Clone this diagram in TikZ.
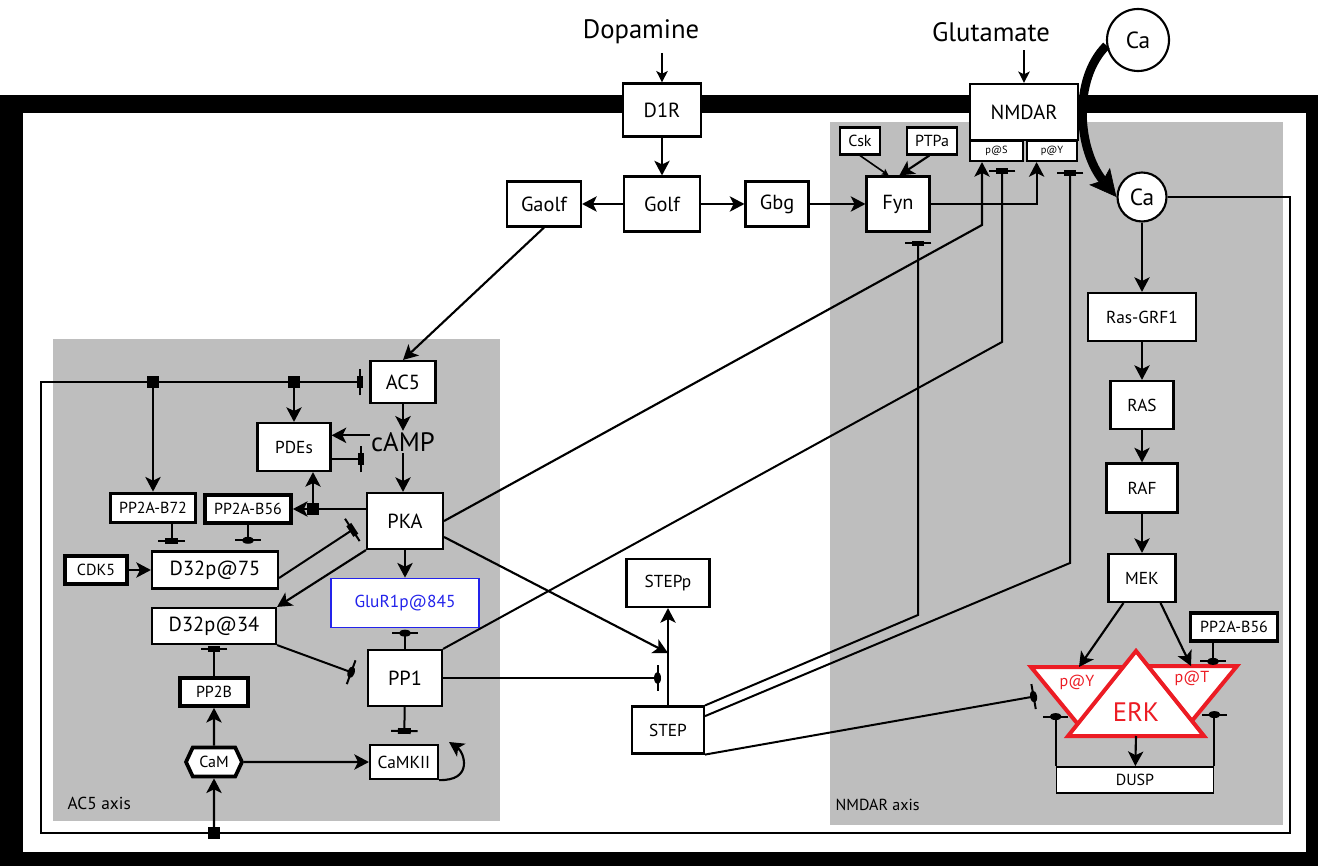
\documentclass[tikz,border=0pt]{standalone}
\usepackage{fontspec}
\setmainfont{PT Sans}
\usepackage{tikz}
\usetikzlibrary{arrows.meta,shapes.symbols}

\definecolor{axisgray}{RGB}{190,190,190}
\definecolor{erkred}{RGB}{236,28,36}
\definecolor{glublue}{RGB}{35,35,235}

% inhibition: bar with a block on it
\pgfdeclarearrow{
  name = blockbar,
  parameters = {blockbar},
  setup code = {
    \pgfarrowssettipend{2.2pt}
    \pgfarrowssetlineend{0pt}
    \pgfarrowsupperhullpoint{2.2pt}{10pt}
    \pgfarrowsupperhullpoint{-2.2pt}{10pt}
  },
  drawing code = {
    \pgfsetdash{}{0pt}
    \pgfsetlinewidth{1.5pt}
    \pgfpathmoveto{\pgfqpoint{0pt}{-10pt}}
    \pgfpathlineto{\pgfqpoint{0pt}{10pt}}
    \pgfusepathqstroke
    \pgfpathrectangle{\pgfqpoint{-2.2pt}{-4.8pt}}{\pgfqpoint{4.4pt}{9.6pt}}
    \pgfusepathqfill
  }
}
% dephosphorylation: bar with a lens on it
\pgfdeclarearrow{
  name = dephos,
  parameters = {dephos},
  setup code = {
    \pgfarrowssettipend{2.6pt}
    \pgfarrowssetlineend{0pt}
    \pgfarrowsupperhullpoint{2.6pt}{9.5pt}
    \pgfarrowsupperhullpoint{-2.6pt}{9.5pt}
  },
  drawing code = {
    \pgfsetdash{}{0pt}
    \pgfsetlinewidth{1.5pt}
    \pgfpathmoveto{\pgfqpoint{0pt}{-9.5pt}}
    \pgfpathlineto{\pgfqpoint{0pt}{9.5pt}}
    \pgfusepathqstroke
    \pgfpathellipse{\pgfpointorigin}{\pgfqpoint{2.6pt}{0pt}}{\pgfqpoint{0pt}{4.6pt}}
    \pgfusepathqfill
  }
}

\begin{document}
\begin{tikzpicture}[x=0.75pt, y=-0.75pt,
  bigtxt/.style={font=\fontsize{20}{23}\selectfont},
  catxt/.style={font=\fontsize{17.5}{20}\selectfont},
  maintxt/.style={font=\fontsize{15.3}{17}\selectfont},
  smalltxt/.style={font=\fontsize{13}{15}\selectfont},
  smallertxt/.style={font=\fontsize{12}{14}\selectfont},
  tinytxt/.style={font=\fontsize{7.8}{9}\selectfont},
  dim/.style 2 args={minimum width=#1*0.75pt, minimum height=#2*0.75pt},
  box/.style={draw, fill=white, line width=1.6pt, inner sep=0pt},
  thickbox/.style={box, line width=2.8pt},
  junction/.style={fill, inner sep=0pt, minimum size=9pt},
  tri/.style={draw=erkred, fill=white, line width=3pt},
  act/.style={line width=1.6pt, arrows={-Stealth[length=11pt, width=11.5pt, inset=2.8pt]}},
  thinact/.style={line width=1.1pt, arrows={-Stealth[length=8.5pt, width=8.5pt, inset=2pt]}},
  smallact/.style={line width=1.2pt, arrows={-Stealth[length=5pt, width=5pt, inset=1pt]}},
  inh/.style={line width=1.5pt, arrows={-blockbar}},
  dph/.style={line width=1.5pt, arrows={-dephos}}]
\useasboundingbox (0,0) rectangle (1318,866);

% membrane and cell
\fill (0,95) rectangle (1318,866);
\fill[white] (23,113) rectangle (1306,852);
\fill[axisgray] (53,339) rectangle (500,821);
\fill[axisgray] (830,122) rectangle (1283,825);
\node[smalltxt, anchor=west] at (63,803) (ac5lab) {AC5 axis};
\node[smallertxt, anchor=west] at (831,805) (nmdalab) {NMDAR axis};

% receptors
\node[bigtxt] at (641,32) (dopa) {Dopamine};
\node[bigtxt] at (991,32) (glut) {Glutamate};
\node[box, maintxt, dim={78}{53}] at (662,110) (d1r) {D1R};
\node[box, maintxt, dim={76}{55}] at (662,204) (golf) {Golf};
\node[box, maintxt, dim={74}{45}] at (544,204) (gaolf) {Gaolf};
\node[box, maintxt, dim={63}{45}] at (777,204) (gbg) {Gbg};
\node[box, maintxt, dim={63}{55}] at (898,204) (fyn) {Fyn};
\node[box, smallertxt, dim={40}{27}] at (860,141) (csk) {Csk};
\node[box, smallertxt, dim={50}{27}] at (932,141) (ptpa) {PTPa};
\node[box, maintxt, dim={108}{56}] at (1024,112) (nmdar) {NMDAR};
\node[box, tinytxt, dim={53}{20}] at (996.5,151) (ps) {p@S};
\node[box, tinytxt, dim={50}{20}] at (1052,151) (py) {p@Y};
\node[box, circle, catxt, dim={62}{62}] at (1138,40) (caout) {Ca};
\node[box, circle, catxt, dim={49}{49}] at (1142,197) (cain) {Ca};

% NMDAR axis
\node[box, smalltxt, dim={108}{48}] at (1142,317) (rasgrf) {Ras-GRF1};
\node[box, smalltxt, dim={63}{48}] at (1142,405) (ras) {RAS};
\node[box, smalltxt, dim={71}{49}] at (1142,488) (raf) {RAF};
\node[box, smalltxt, dim={67}{48}] at (1142,578) (mek) {MEK};
\node[thickbox, smallertxt, dim={87}{28}] at (1234,627) (pp2ar) {PP2A-B56};
\node[box, smallertxt, line width=1.3pt, dim={157}{26}] at (1135,780) (dusp) {DUSP};
\draw[tri] (1031,667) -- (1141,667) -- (1086,734) -- cycle;
\draw[tri] (1127,666) -- (1237,666) -- (1182,733) -- cycle;
\draw[tri] (1136,651) -- (1204,736) -- (1068,736) -- cycle;
\node[smallertxt, text=erkred] at (1077,682) (pylab) {p@Y};
\node[smallertxt, text=erkred] at (1192,678) (ptlab) {p@T};
\node[bigtxt, text=erkred] at (1136,712) (erklab) {ERK};
\coordinate (erky) at (1079,667);
\coordinate (erkt) at (1191,666);
\coordinate (erkbase) at (1136,736);
\coordinate (erkleft) at (1037,696);

% AC5 axis
\node[box, maintxt, dim={65}{42}] at (403,382) (ac5) {AC5};
\node[bigtxt, inner sep=1pt] at (403,442) (camp) {cAMP};
\node[box, smalltxt, dim={73}{48}] at (294,447) (pdes) {PDEs};
\node[box, maintxt, dim={76}{56}] at (405,521) (pka) {PKA};
\node[thickbox, smallertxt, dim={85}{29}] at (153,508) (b72) {PP2A-B72};
\node[thickbox, smallertxt, dim={86}{28}] at (248,509) (b56) {PP2A-B56};
\node[box, maintxt, dim={126}{37}] at (215,570) (d75) {D32p@75};
\node[thickbox, smallertxt, dim={62}{28}] at (96,570) (cdk5) {CDK5};
\node[box, maintxt, dim={124}{36}] at (214,626) (d34) {D32p@34};
\node[thickbox, smallertxt, dim={68}{28}] at (214,692) (pp2b) {PP2B};
\node[thickbox, shape=signal, signal to=west and east, signal pointer angle=130,
  smallertxt, dim={56}{29}] at (214,762) (cam) {CaM};
\node[box, smalltxt, dim={68}{34}] at (404,762) (camkii) {CaMKII};
\node[box, maintxt, dim={74}{56}] at (405,678) (pp1) {PP1};
\node[box, draw=glublue, text=glublue, smalltxt, line width=1.3pt, dim={148}{49}] at (405,603) (glur) {GluR1p@845};
\node[box, smalltxt, dim={83}{48}] at (668,583) (stpp) {STEPp};
\node[box, smalltxt, dim={72}{47}] at (668,730) (stp) {STEP};

\coordinate (pkabend) at (982,225);
\coordinate (pp1bend) at (1002,342);
\coordinate (stpbend) at (918,615);
\coordinate (stpbendy) at (1070,563);
\coordinate (stpmid) at (668,653);
\coordinate (stpdeph) at (661,678);
\coordinate (loopend) at (449,742);
\coordinate (fbr) at (1290,833);
\coordinate (fbl) at (41,382);

% upstream
\draw[thinact] ([yshift=-3pt]dopa.south -| d1r.north) -- (d1r.north);
\draw[thinact] ([yshift=-3pt]glut.south -| nmdar.north) -- (nmdar.north);
\draw[act] (d1r) -- (golf);
\draw[act] (golf) -- (gaolf);
\draw[act] (golf) -- (gbg);
\draw[act] (gbg) -- (fyn);
\draw[smallact] (csk.south) -- ([xshift=-7pt]fyn.north);
\draw[act] ([xshift=-2pt]ptpa.south) -- ([xshift=1pt]fyn.north);
\draw[act] (fyn.east) -| ([xshift=8pt]py.south west);
\draw[act] (gaolf.south) -- (ac5.north);
\draw[line width=6.5pt, arrows={-Stealth[length=20pt, width=20pt, inset=4pt, line width=0.5pt]}]
  (caout.190) .. controls (1072,80) and (1078,150) .. (cain.west);

% calcium feedback
\draw[inh, shorten >=5pt] (cain.east) -| (fbr) -| (fbl) -- (ac5.west);
\node[junction] at (153,382) (jb72) {};
\node[junction] at (294,382) (jpde) {};
\node[junction] at (313,509) (jpka) {};
\node[junction] at (214,833) (jcam) {};

% AC5 axis
\draw[act] (ac5) -- (camp);
\draw[act] (camp) -- (camp |- pka.north);
\draw[act] ([yshift=5pt]camp.west) -- ([yshift=5pt]camp.west -| pdes.east);
\draw[inh, shorten >=4pt] ([yshift=-9pt]pdes.east) -- ([yshift=-9pt]pdes.east -| camp.west);
\draw[act] (jb72.center) -- (b72);
\draw[act] (jpde.center) -- (pdes);
\draw[act] (pka.west |- jpka) -- (jpka.center) -- (b56);
\draw[act] (jpka.center) -- (jpka |- pdes.south);
\draw[inh, shorten >=5pt] ([xshift=14pt]b72.south) -- ([xshift=14pt]b72.south |- d75.north);
\draw[dph, shorten >=5pt] (b56.south) -- (b56.south |- d75.north);
\draw[act] (cdk5) -- (d75);
\draw[inh, shorten >=10pt] ([yshift=-6pt]d75.east) -- (pka.west);
\draw[act] (pka.south west) -- (d34.north east);
\draw[act] (pka) -- (glur);
\draw[dph, shorten >=10pt] (d34.south east) -- (pp1.west);
\draw[inh, shorten >=1pt] (pp2b) -- (d34);
\draw[act] (cam) -- (pp2b);
\draw[act] (jcam.center) -- (cam);
\draw[act] (cam) -- (camkii);
\draw[dph, shorten >=1pt] (pp1) -- (glur);
\draw[inh, shorten >=7.5pt] (pp1) -- (camkii);
%self activation
\draw[act] (camkii.south east) .. controls (474,781) and (464,752) .. (loopend);

% crosstalk
\draw[act] (pka.east) -- (pkabend) -- (pkabend |- ps.south);
\draw[inh, shorten >=4.5pt] (pp1.north east) -- (pp1bend) -- (pp1bend |- ps.south);
\draw[act] ([yshift=-12pt]pka.east) -- (stpmid);
\draw[dph] (pp1.east) -- (stpdeph);
\draw[act] (stp) -- (stpp);
\draw[inh, shorten >=6pt] (stp.north east) -- (stpbend) -- (stpbend |- fyn.south);
\draw[inh, shorten >=6pt] ([yshift=-8pt]stp.north east) -- (stpbendy) -- (stpbendy |- py.south);
\draw[dph] (stp.south east) -- (erkleft);

% MAPK cascade
\draw[act] (cain) -- (rasgrf);
\draw[act] (rasgrf) -- (ras);
\draw[act] (ras) -- (raf);
\draw[act] (raf) -- (mek);
\draw[act] ([xshift=12pt]mek.south west) -- (erky);
\draw[act] ([xshift=-12pt]mek.south east) -- (erkt);
\draw[act] (erkbase) -- (dusp);
\draw[dph] (dusp.north west) -- ++(0,-53);
\draw[dph] (dusp.north east) -- ++(0,-55);
\draw[dph] ([xshift=-15.75pt]pp2ar.south) -- ++(0,22);
\end{tikzpicture}
\end{document}
